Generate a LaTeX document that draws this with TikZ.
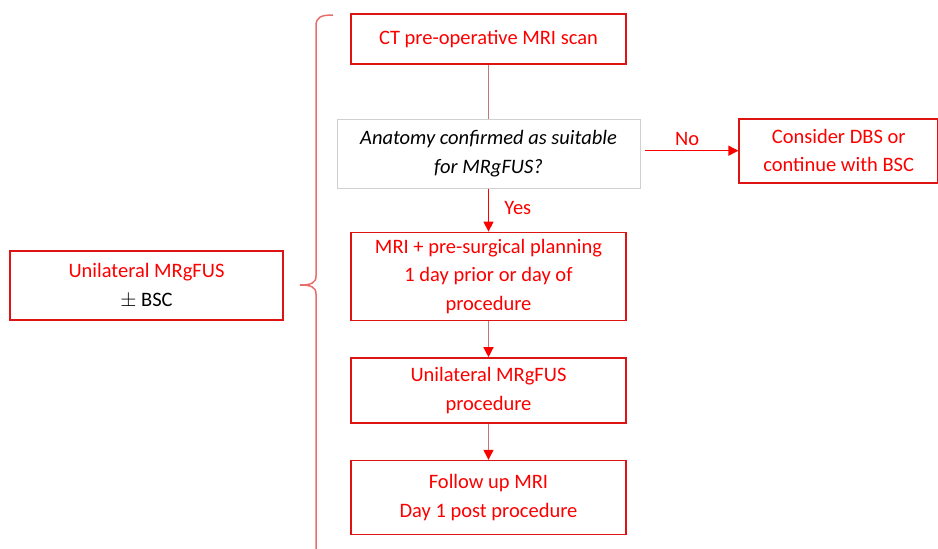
\documentclass[tikz,border=0pt]{standalone}
\usepackage{fontspec}
\setmainfont{Carlito}
\usepackage{tikz}
\usetikzlibrary{arrows.meta,positioning}
\definecolor{myred}{RGB}{252,0,0}
\definecolor{boxred}{RGB}{222,20,20}
\definecolor{linkbrown}{RGB}{190,120,120}
\definecolor{bracered}{RGB}{232,110,110}
\definecolor{qgray}{RGB}{208,208,208}
\tikzset{
    every node/.style = {font=\fontsize{20.5}{28.5}\selectfont},
    step box/.style   = {draw=boxred, line width=1.6pt, fill=white, text=myred,
            minimum width=275pt, align=center, inner sep=2pt},
    query/.style      = {draw=qgray, line width=0.8pt, text=black,
            minimum width=303pt, minimum height=69pt, align=center,
            font=\fontsize{20.5}{28.5}\selectfont\itshape},
    link/.style       = {line width=1.3pt, draw=linkbrown},
    arrow/.style      = {link, -{Triangle[length=10pt,width=10pt,color=myred]}},
    redarrow/.style   = {arrow, draw=myred},
    brace/.style      = {line width=1.5pt, draw=bracered},
}
\begin{document}
\begin{tikzpicture}
    \useasboundingbox (0,0) rectangle (938pt,-549pt);
    % Nodes
    \node[step box, minimum height=50pt] (ct) at (488.5pt,-39pt) {CT pre-operative MRI scan};
    \node[query, below=54pt of ct] (anatomy) {Anatomy confirmed as suitable\\for MRgFUS?};
    \node[step box, minimum width=199pt, minimum height=64pt, right=98pt of anatomy,
        yshift=3pt] (dbs) {Consider DBS or\\continue with BSC};
    \node[step box, minimum height=88pt, below=43pt of anatomy] (planning)
        {MRI + pre-surgical planning\\1 day prior or day of\\procedure};
    \node[step box, minimum height=65pt, below=36pt of planning] (procedure)
        {Unilateral MRgFUS\\procedure};
    \node[step box, minimum height=74pt, below=36pt of procedure] (followup)
        {Follow up MRI\\Day 1 post procedure};
    \node[step box, minimum width=273pt, minimum height=69pt] (overview) at (146.5pt,-285.5pt)
        {Unilateral MRgFUS\\\textcolor{black}{$\pm$ BSC}};
    % Arrows
    \draw[link] (ct) -- (anatomy);
    \draw[redarrow] (anatomy) -- node[pos=0.45,right=12pt, text=myred]{Yes} (planning);
    \draw[redarrow] ([xshift=5pt]anatomy.east |- dbs.west) -- node[pos=0.45,above=1pt, text=myred]{No} (dbs);
    \draw[arrow] (planning) -- (procedure);
    \draw[arrow] (procedure) -- (followup);
    % Brace
    \coordinate (bracetop) at (333pt,-15pt);
    \coordinate (bracetip) at (300pt,-285pt);
    \coordinate (braceend) at (316pt,-549pt);
    \draw[brace] (bracetop) .. controls (321pt,-15pt) and (316pt,-17pt) .. (316pt,-26pt)
        -- (316pt,-276pt) .. controls (316pt,-283pt) and (311pt,-285pt) .. (bracetip)
        .. controls (311pt,-285pt) and (316pt,-287pt) .. (316pt,-294pt) -- (braceend);
\end{tikzpicture}
\end{document}
